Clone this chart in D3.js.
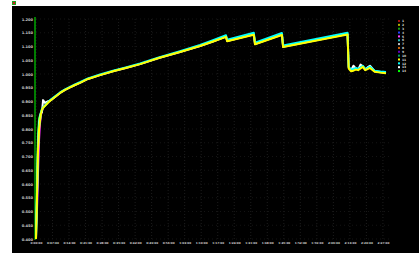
<!DOCTYPE html>
<html>
<head>
<meta charset="utf-8">
<script src="https://cdn.jsdelivr.net/npm/d3@7"></script>
<style>
  html, body { margin: 0; padding: 0; background: #fff; overflow: hidden; }
  text { font-family: "DejaVu Sans", sans-serif; }
</style>
</head>
<body>
<svg id="chart" width="419" height="253"></svg>
<script>
// sample times in minutes
const times = [0, 0.4, 0.85, 1.3, 1.7, 2.1, 2.5, 3.0, 3.8, 4.8,
  5.9, 7.5, 10.2, 12.3, 14.4, 16.5, 18.6, 22, 27.1, 33,
  38, 44.1, 52, 61, 69.5, 75, 80.5, 81.0, 92.3, 92.8,
  104.2, 104.7, 132.0, 132.5, 133.5, 134.5, 135.5, 136.5, 137.5, 138.5,
  139.5, 140.5, 141.5, 143.5, 146, 148.3];

const yellow = [0.40, 0.54, 0.72, 0.80, 0.83, 0.855, 0.87, 0.877, 0.884, 0.893,
  0.902, 0.913, 0.931, 0.942, 0.951, 0.960, 0.968, 0.982, 0.996, 1.011,
  1.022, 1.036, 1.058, 1.080, 1.102, 1.118, 1.135, 1.119, 1.143, 1.108,
  1.142, 1.098, 1.144, 1.020, 1.010, 1.012, 1.016, 1.014, 1.020, 1.026,
  1.014, 1.018, 1.022, 1.008, 1.005, 1.003];
const cyan = [0.40, 0.55, 0.73, 0.81, 0.835, 0.858, 0.872, 0.879, 0.886, 0.895,
  0.904, 0.915, 0.933, 0.944, 0.953, 0.962, 0.970, 0.984, 0.998, 1.013,
  1.024, 1.038, 1.060, 1.083, 1.106, 1.123, 1.141, 1.125, 1.150, 1.114,
  1.149, 1.104, 1.150, 1.026, 1.016, 1.018, 1.022, 1.019, 1.024, 1.030,
  1.018, 1.022, 1.027, 1.012, 1.009, 1.007];
const white = [0.40, 0.56, 0.74, 0.82, 0.845, 0.86, 0.86, 0.905, 0.895, 0.90,
  0.903, 0.913, 0.931, 0.942, 0.951, 0.960, 0.968, 0.982, 0.996, 1.011,
  1.022, 1.036, 1.058, 1.080, 1.102, 1.118, 1.136, 1.120, 1.144, 1.109,
  1.143, 1.099, 1.145, 1.024, 1.014, 1.030, 1.020, 1.016, 1.034, 1.028,
  1.016, 1.024, 1.030, 1.010, 1.006, 1.004];
// these only separate from the bundle during the first minutes
const green = [0.42, 0.60, 0.78, 0.84, 0.85, 0.86, 0.87, 0.877, 0.884, 0.893];
const magenta = [0.45, 0.50, 0.64, 0.76, 0.82, 0.85, 0.865, 0.877, 0.884, 0.893];
const blue = [0.44, 0.50, 0.70, 0.80, 0.83, 0.855, 0.87, 0.877, 0.884, 0.893];

const yTicks = [1.2, 1.15, 1.1, 1.05, 1.0, 0.95, 0.9, 0.85, 0.8, 0.75, 0.7, 0.65, 0.6, 0.55, 0.5, 0.45, 0.4];
const xTicks = [0, 7, 14, 21, 28, 35, 42, 49, 56, 63, 70, 77, 84, 91, 98, 105, 112, 119, 126, 133, 140, 147];

const legendLabels = ['1', '2', '3', '4', '5', '6', '7', '8', '9', '10', '11', '12', '13', '14'];
const legendColors = ['#a01010', '#b0b000', '#10a010', '#2040ff', '#ff40ff', '#20c0c0', '#c0c0c0',
  '#d06000', '#6000c0', '#00a060', '#ffff00', '#00ffff', '#ffffff', '#00ff00'];

const series = [
  { values: blue, color: '#2040ff' },
  { values: magenta, color: '#ff30ff' },
  { values: green, color: '#00ff00' },
  { values: white, color: '#ffffff' },
  { values: cyan, color: '#00ffff' },
  { values: yellow, color: '#ffff00' },
];

const svg = d3.select('#chart');

// frame
svg.append('rect').attr('x', 12).attr('y', 6).attr('width', 407).attr('height', 247).attr('fill', '#000');
svg.append('rect').attr('x', 12).attr('y', 1).attr('width', 4).attr('height', 4).attr('fill', '#20a020');
svg.append('rect').attr('x', 13).attr('y', 2).attr('width', 2).attr('height', 2).attr('fill', '#d02020');

const x = d3.scaleLinear().domain([0, 150]).range([36, 390]);
const y = d3.scaleLinear().domain([0.4, 1.2]).range([239, 19]);

// grid
svg.append('g').selectAll('line').data(xTicks).join('line')
    .attr('x1', d => x(d)).attr('x2', d => x(d))
    .attr('y1', 19).attr('y2', 239)
    .attr('stroke', '#1c1c1c').attr('stroke-dasharray', '1,2');
svg.append('g').selectAll('line').data(yTicks).join('line')
    .attr('x1', 36).attr('x2', 390)
    .attr('y1', d => y(d)).attr('y2', d => y(d))
    .attr('stroke', '#141414').attr('stroke-dasharray', '1,3');

// y axis
const yAxis = svg.append('g')
    .attr('transform', 'translate(35,0)')
    .call(d3.axisLeft(y).tickValues(yTicks).tickFormat(d3.format('.3f')).tickSize(0).tickPadding(2));
yAxis.select('.domain').remove();
yAxis.selectAll('text').attr('fill', '#cfcfcf').attr('font-size', 3.6).attr('font-weight', 'bold');
svg.append('line').attr('x1', 35).attr('x2', 35).attr('y1', 17).attr('y2', 240)
    .attr('stroke', '#00c000').attr('stroke-width', 1.3);

// x axis
const fmt = m => `${Math.floor(m / 60)}:${String(m % 60).padStart(2, '0')}:00`;
const xAxis = svg.append('g')
    .attr('transform', 'translate(0,240)')
    .call(d3.axisBottom(x).tickValues(xTicks).tickFormat(fmt).tickSize(0).tickPadding(2));
xAxis.select('.domain').remove();
xAxis.selectAll('text').attr('fill', '#cfcfcf').attr('font-size', 2.8).attr('font-weight', 'bold');

// lines
const line = d3.line()
    .x((d, i) => x(times[i]))
    .y(d => y(d));
svg.append('g').selectAll('path').data(series).join('path')
    .attr('d', d => line(d.values))
    .attr('fill', 'none')
    .attr('stroke', d => d.color)
    .attr('stroke-width', 2)
    .attr('stroke-linejoin', 'round');

// legend
const lg = svg.append('g').attr('transform', 'translate(398,21)');
const item = lg.selectAll('g').data(legendLabels).join('g')
    .attr('transform', (d, i) => `translate(0,${i * 3.85})`);
item.append('rect').attr('x', 0).attr('y', -1).attr('width', 2).attr('height', 2)
    .attr('fill', (d, i) => legendColors[i]);
item.append('text').attr('x', 4).attr('y', 1.2)
    .attr('font-size', 3).attr('font-weight', 'bold').attr('fill', '#d8d8d8')
    .text(d => d);
</script>
</body>
</html>
